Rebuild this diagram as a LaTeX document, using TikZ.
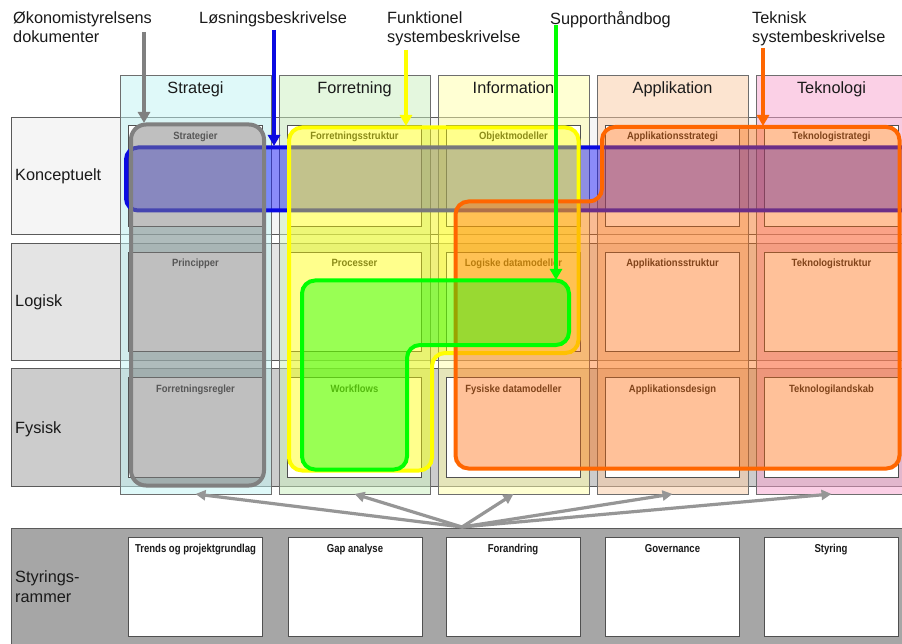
\documentclass[tikz,border=0pt]{standalone}
\usepackage{fontspec}
\setmainfont{Liberation Sans}
\newfontfamily\cellfont[FakeStretch=0.9]{Liberation Sans}
\newfontfamily\botfont[FakeStretch=0.83]{Liberation Sans}
\usetikzlibrary{arrows.meta}
\definecolor{txt}{RGB}{26,26,26}
\definecolor{celltxt}{RGB}{45,45,45}
\definecolor{colborder}{RGB}{110,110,110}
\definecolor{rowborder}{RGB}{90,90,90}
\definecolor{cellborder}{RGB}{80,80,80}
\definecolor{rowK}{RGB}{245,245,245}
\definecolor{rowL}{RGB}{228,228,228}
\definecolor{rowF}{RGB}{204,204,204}
\definecolor{colS}{RGB}{193,245,245}
\definecolor{colF}{RGB}{203,241,191}
\definecolor{colI}{RGB}{255,255,169}
\definecolor{colA}{RGB}{251,203,163}
\definecolor{colT}{RGB}{249,163,207}
\definecolor{ovblue}{RGB}{10,10,225}
\definecolor{ovgray}{RGB}{128,128,128}
\definecolor{ovyellow}{RGB}{255,255,0}
\definecolor{ovorange}{RGB}{255,102,0}
\definecolor{ovgreen}{RGB}{0,255,0}
\definecolor{panel}{RGB}{166,166,166}
\definecolor{arrgray}{RGB}{150,150,150}
\begin{document}
\begin{tikzpicture}[x=1pt,y=-1pt,
  col/.style={draw=colborder, line width=0.8pt, fill opacity=0.5, minimum width=151pt, minimum height=419pt, inner sep=0pt, outer sep=0pt, anchor=north west},
  rowband/.style={draw=rowborder, line width=0.8pt, minimum width=900pt, inner sep=0pt, outer sep=0pt, anchor=north west},
  cell/.style={draw=cellborder, line width=0.8pt, fill=white, minimum width=134pt, inner sep=0pt, outer sep=0pt, anchor=north west},
  hdr/.style={font=\fontsize{16.3}{19.5}\selectfont, text=txt, anchor=base, inner sep=0pt},
  rowlbl/.style={font=\fontsize{16.3}{20}\selectfont, text=txt, anchor=base west, inner sep=0pt, align=left},
  cl/.style={font=\cellfont\bfseries\fontsize{10.5}{12}\selectfont, text=celltxt, anchor=base, inner sep=0pt},
  bl/.style={font=\botfont\bfseries\fontsize{11.5}{13}\selectfont, text=txt, anchor=base, inner sep=0pt},
  toplbl/.style={font=\fontsize{16.3}{19.5}\selectfont, text=txt, align=left, anchor=north west, inner sep=0pt},
  ovl/.style={line width=4pt, rounded corners=13pt},
  toparrow/.style={line width=3.5pt, -{Triangle[length=11pt,width=12pt]}},
  botarrow/.style={draw=arrgray, line width=3.2pt, -{Triangle[length=10pt,width=10pt]}}
]
\useasboundingbox (0,0) rectangle (902,644);
\clip (0,0) rectangle (902,644);
\fill[white] (0,0) rectangle (902,644);

% row bands
\node[rowband, fill=rowK, minimum height=117pt] (rK) at (11,117) {};
\node[rowband, fill=rowL, minimum height=117pt] (rL) at (11,243) {};
\node[rowband, fill=rowF, minimum height=118pt] (rF) at (11,368) {};
\node[rowlbl] (lK) at (15,181) {Konceptuelt};
\node[rowlbl] (lL) at (15,307) {Logisk};
\node[rowlbl] (lF) at (15,433) {Fysisk};

% columns
\foreach \n/\x/\c/\t in {S/120/colS/Strategi,F/279/colF/Forretning,I/438/colI/Information,A/597/colA/Applikation,T/756/colT/Teknologi}{
  \node[col, fill=\c] (c\n) at (\x,75) {};
  \node[hdr] (h\n) at (\x+75.5,94) {\t};
}

% cells
\foreach \n/\x/\p/\q/\r in {S/128.5/Strategier/Principper/Forretningsregler,
  F/287.5/Forretningsstruktur/Processer/Workflows,
  I/446.5/Objektmodeller/Logiske datamodeller/Fysiske datamodeller,
  A/605.5/Applikationsstrategi/Applikationsstruktur/Applikationsdesign,
  T/764.5/Teknologistrategi/Teknologistruktur/Teknologilandskab}{
  \node[cell, minimum height=101pt] (k\n1) at (\x,125) {};
  \node[cell, minimum height=99pt] (k\n2) at (\x,252) {};
  \node[cell, minimum height=100pt] (k\n3) at (\x,377) {};
  \node[cl] (t\n1) at ([yshift=-15pt]k\n1.north) {\p};
  \node[cl] (t\n2) at ([yshift=-15pt]k\n2.north) {\q};
  \node[cl] (t\n3) at ([yshift=-15pt]k\n3.north) {\r};
}

% overlays
\draw[ovl, rounded corners=12pt, draw=ovblue, fill=blue, fill opacity=0.43] (126,147.5) rectangle (960,210.5);
\draw[ovl, rounded corners=15pt, draw=ovgray, fill=ovgray, fill opacity=0.5] (131,124.5) rectangle (264,485.5);
\draw[ovl, draw=ovyellow, fill=ovyellow, fill opacity=0.45]
  (289,127.5) -- (578.5,127.5) -- (578.5,353) -- (432,353) -- (432,470.5) -- (289,470.5) -- cycle;
\draw[ovl, draw=ovorange, fill=ovorange, fill opacity=0.4]
  (455.5,201.5) -- (602,201.5) -- (602,127) -- (899.5,127) -- (899.5,468.5) -- (455.5,468.5) -- cycle;
\draw[ovl, draw=ovgreen, fill=ovgreen, fill opacity=0.4]
  (302,280.5) -- (569,280.5) -- (569,345) -- (407,345) -- (407,469.5) -- (302,469.5) -- cycle;

% bottom panel
\node[draw=rowborder, line width=0.8pt, fill=panel, minimum width=900pt, minimum height=130pt, inner sep=0pt, outer sep=0pt, anchor=north west] (bp) at (11,528) {};
\node[rowlbl] (lS) at (15,582) {Styrings-};
\node[rowlbl] (lS2) at (15,602) {rammer};
\foreach \i/\x/\t in {1/128.5/Trends og projektgrundlag,2/288/Gap analyse,3/446/Forandring,4/605.5/Governance,5/764/Styring}{
  \node[cell, minimum height=99pt] (b\i) at (\x,537) {};
  \node[bl] (bt\i) at ([yshift=-15pt]b\i.north) {\t};
}

% top labels
\node[toplbl] (lOk) at (13,11) {Økonomistyrelsens\\dokumenter};
\node[toplbl] (lLo) at (199,11) {Løsningsbeskrivelse};
\node[toplbl] (lFu) at (387,11) {Funktionel\\systembeskrivelse};
\node[toplbl] (lSu) at (550,11) {Supporthåndbog};
\node[toplbl] (lTe) at (752,11) {Teknisk\\systembeskrivelse};

% top arrows
\coordinate (gA) at (144,32);  \coordinate (gB) at (144,123);
\coordinate (bA) at (274,30);  \coordinate (bB) at (274,146);
\coordinate (yA) at (406,50);  \coordinate (yB) at (406,126);
\coordinate (oA) at (763,48);  \coordinate (oB) at (763,126);
\coordinate (nA) at (556,25);  \coordinate (nB) at (556,280);
\draw[toparrow, draw=ovgray, line width=4pt] (gA) -- (gB);
\draw[toparrow, draw=ovblue] (bA) -- (bB);
\draw[toparrow, draw=ovyellow] (yA) -- (yB);
\draw[toparrow, draw=ovorange] (oA) -- (oB);
\draw[toparrow, draw=ovgreen] (nA) -- (nB);

% bottom arrows
\coordinate (hub) at (462,527);
\foreach \n in {S,F,I,A,T}{
  \draw[botarrow] (hub) -- (c\n.south);
}
\end{tikzpicture}
\end{document}
